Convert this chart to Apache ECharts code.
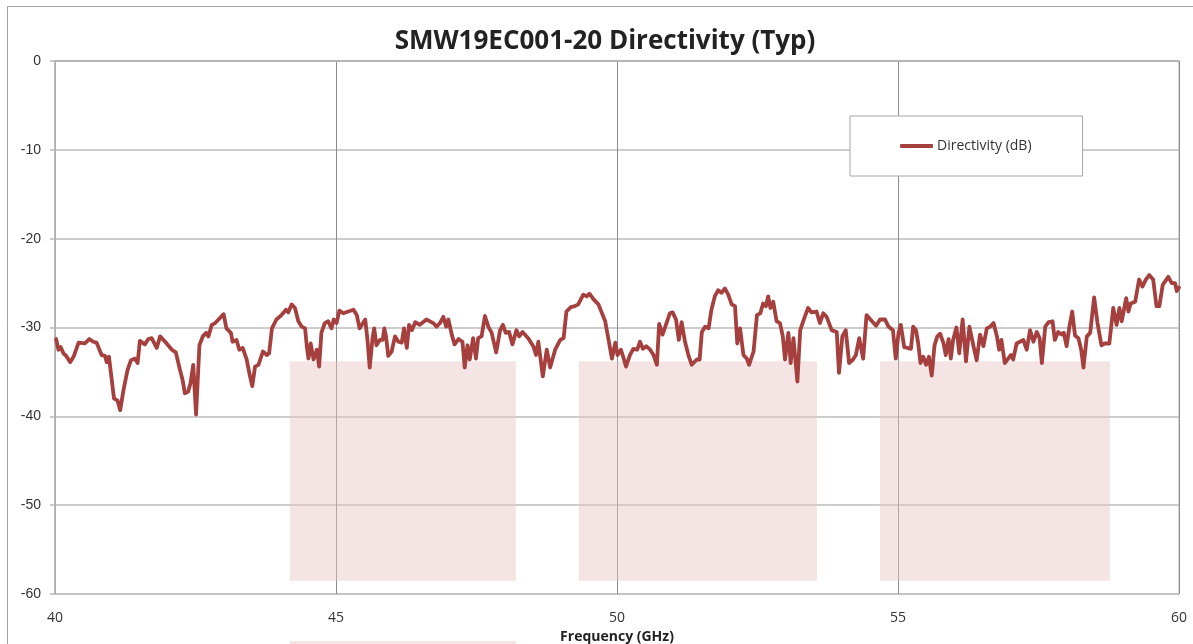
<!DOCTYPE html>
<html>
<head>
<meta charset="utf-8">
<script src="https://cdn.jsdelivr.net/npm/echarts@6/dist/echarts.min.js"></script>
<style>html,body{margin:0;padding:0;background:#fff;overflow:hidden;}#c{width:1193px;height:644px;}</style>
</head>
<body>
<div id="c"></div>
<script>
const titleText = 'SMW19EC001-20 Directivity (Typ)';
const seriesName = 'Directivity (dB)';
const xAxisName = 'Frequency (GHz)';
const freq = [
40.02,40.06,40.10,40.15,40.20,40.27,40.33,40.42,40.53,40.61,40.68,40.74,40.83,40.89,40.92,40.96,41.01,41.05,41.11,41.16,
41.22,41.29,41.35,41.42,41.47,41.51,41.60,41.66,41.72,41.81,41.87,41.96,42.08,42.15,42.21,42.27,42.31,42.37,42.41,42.46,
42.51,42.57,42.63,42.69,42.73,42.79,42.85,42.91,43.00,43.05,43.13,43.16,43.23,43.28,43.34,43.41,43.47,43.51,43.56,43.62,
43.70,43.77,43.81,43.86,43.94,44.03,44.11,44.15,44.21,44.27,44.33,44.39,44.45,44.48,44.51,44.55,44.60,44.66,44.70,
44.74,44.80,44.86,44.92,44.96,45.01,45.06,45.13,45.22,45.31,45.37,45.42,45.46,45.52,45.56,45.60,45.65,45.68,45.72,45.78,
45.83,45.86,45.89,45.93,45.99,46.05,46.11,46.17,46.21,46.26,46.30,46.35,46.41,46.49,46.61,46.73,46.79,46.85,46.91,46.96,
47.00,47.06,47.11,47.18,47.25,47.29,47.34,47.38,47.44,47.49,47.53,47.59,47.65,47.71,47.77,47.85,47.92,47.97,48.02,48.08,
48.14,48.21,48.26,48.32,48.42,48.51,48.56,48.60,48.68,48.75,48.81,48.90,48.99,49.05,49.10,49.18,49.25,49.31,49.40,49.46,
49.51,49.58,49.67,
49.79,49.85,49.91,49.97,50.01,50.07,50.11,50.16,50.23,50.29,50.36,50.41,50.46,50.52,50.59,50.65,50.71,50.75,50.81,50.87,
50.94,50.99,51.05,51.10,51.15,51.21,51.27,51.33,51.42,51.47,51.51,51.57,51.63,51.68,51.74,51.80,51.86,51.92,51.98,52.04,
52.10,52.14,52.19,52.25,52.31,52.35,52.43,52.49,52.55,52.60,52.65,52.69,52.73,52.78,52.84,52.90,52.95,52.99,53.05,53.09,
53.14,53.21,53.26,53.33,53.40,53.46,53.55,53.61,53.67,53.73,53.82,53.91,53.95,54.01,54.07,54.13,54.20,54.25,54.31,54.38,
54.44,54.51,54.61,
54.68,54.77,54.83,54.91,54.96,55.01,55.05,55.11,55.17,55.23,55.27,55.32,55.36,55.40,55.45,55.50,55.55,55.60,55.65,55.70,
55.75,55.81,55.85,55.90,55.94,55.98,56.04,56.09,56.15,56.21,56.27,56.34,56.40,56.46,56.52,56.58,56.64,56.70,56.76,56.80,
56.84,56.90,56.96,57.01,57.05,57.11,57.17,57.23,57.29,57.35,57.41,57.47,57.52,57.56,57.62,57.68,57.75,57.79,57.85,57.91,
57.95,58.00,58.05,58.10,58.15,58.21,58.26,58.30,58.36,58.42,58.49,58.55,58.62,58.68,58.76,58.83,58.89,58.94,58.98,59.06,
59.10,59.14,59.22,59.29,59.35,59.41,59.47,59.54,59.60,59.65,59.71,59.81,59.87,59.93,59.96,60.00
];
const directivity = [
-31.3,-32.5,-32.2,-32.9,-33.2,-33.9,-33.3,-31.7,-31.8,-31.3,-31.6,-31.7,-33.1,-33.2,-33.9,-33.3,-35.9,-38.0,-38.2,-39.3,
-37.0,-34.8,-33.7,-33.5,-34.0,-31.5,-31.9,-31.3,-31.2,-32.3,-31.0,-31.6,-32.5,-32.8,-34.4,-35.9,-37.4,-37.2,-36.3,-34.2,
-39.8,-32.0,-31.0,-30.6,-31.0,-29.7,-29.5,-29.1,-28.5,-30.1,-30.6,-31.6,-31.4,-32.5,-32.3,-33.6,-35.5,-36.6,-34.4,-34.2,
-32.7,-33.1,-32.9,-30.1,-29.1,-28.6,-28.0,-28.3,-27.4,-27.8,-29.3,-29.9,-30.1,-32.1,-33.5,-31.8,-33.6,-32.5,-34.4,
-30.6,-29.5,-29.3,-30.1,-29.1,-29.5,-28.1,-28.4,-28.2,-28.0,-28.6,-30.1,-29.7,-29.1,-31.4,-34.5,-31.2,-30.1,-32.0,-31.4,
-31.4,-30.1,-31.0,-33.2,-32.7,-31.0,-31.6,-31.7,-30.1,-32.3,-29.7,-30.3,-29.4,-29.7,-29.1,-29.5,-29.9,-29.5,-28.8,-29.9,
-29.1,-30.8,-31.9,-31.3,-31.6,-34.5,-32.0,-33.6,-31.2,-33.5,-31.2,-31.0,-28.7,-29.9,-30.6,-32.8,-30.3,-29.7,-30.6,-30.5,
-31.9,-30.3,-31.0,-30.5,-31.2,-32.1,-33.1,-31.6,-35.5,-32.5,-34.5,-32.5,-31.4,-31.2,-28.2,-27.7,-27.6,-27.4,-26.3,-26.5,
-26.2,-26.8,-27.4,
-29.3,-31.4,-33.5,-31.7,-33.1,-32.5,-33.3,-34.4,-33.1,-32.4,-32.5,-31.6,-32.4,-32.1,-32.5,-33.1,-34.2,-29.6,-30.8,-29.7,
-28.4,-28.3,-29.1,-31.4,-29.4,-31.6,-33.1,-34.2,-33.6,-33.6,-30.5,-29.9,-30.1,-28.0,-26.5,-25.8,-26.1,-25.6,-26.3,-27.4,
-27.6,-31.8,-30.1,-33.1,-33.5,-34.2,-32.7,-28.6,-28.4,-27.3,-27.6,-26.5,-27.8,-27.1,-29.3,-29.5,-31.0,-33.6,-30.6,-34.0,
-31.2,-36.1,-30.3,-29.0,-27.8,-28.3,-28.2,-29.5,-28.4,-28.8,-30.3,-30.5,-35.1,-31.0,-30.3,-34.0,-33.6,-33.1,-31.2,-33.5,
-28.6,-29.1,-29.8,
-29.1,-29.1,-29.9,-30.3,-33.5,-30.6,-29.7,-32.2,-32.3,-32.4,-29.9,-30.3,-31.8,-34.0,-33.3,-34.2,-33.3,-35.4,-32.0,-31.0,
-30.7,-31.8,-33.1,-31.3,-33.5,-31.4,-30.0,-32.9,-29.1,-33.8,-29.9,-32.0,-33.7,-30.8,-32.1,-30.1,-29.9,-29.5,-31.0,-32.5,
-31.4,-34.0,-33.5,-33.1,-33.6,-31.8,-31.6,-31.4,-32.5,-30.3,-31.6,-30.5,-31.2,-34.0,-29.9,-29.4,-29.3,-31.4,-30.5,-30.8,
-30.6,-32.1,-29.9,-28.2,-30.9,-31.2,-32.5,-34.5,-31.0,-30.6,-26.6,-29.5,-32.0,-31.8,-31.8,-27.8,-29.7,-27.8,-29.3,-26.7,
-28.2,-27.3,-27.1,-24.6,-25.4,-24.6,-24.1,-24.6,-27.6,-27.6,-25.2,-24.3,-25.0,-25.0,-25.9,-25.5
];
// shaded bands [xStart, xEnd, yTop, yBottom]
const bands = [
  [44.18, 48.2, -33.8, -58.5],
  [49.32, 53.56, -33.8, -58.5],
  [54.68, 58.77, -33.8, -58.5]
];
const xMin = 40, xMax = 60, xStep = 5;
const yMin = -60, yMax = 0, yStep = 10;

const bandColor = 'rgba(230,196,196,0.45)';
const data = freq.map((f, i) => [f, directivity[i]]);
const chart = echarts.init(document.getElementById('c'), null, {renderer: 'canvas'});
const border = {type: 'rect', left: 5, top: 4, z: -10, silent: true,
  shape: {width: 1300, height: 700},
  style: {fill: 'none', stroke: '#a0a0a0', lineWidth: 1}};
chart.setOption({
  animation: false,
  backgroundColor: '#fff',
  title: {
    text: titleText,
    left: 600, top: 24, textAlign: 'center',
    textStyle: {fontFamily: 'Open Sans', fontWeight: 'bold', fontSize: 26, color: '#222'}
  },
  legend: {
    data: [{name: seriesName, icon: 'roundRect'}],
    left: 850, top: 116,
    padding: [23, 51, 23, 50],
    itemWidth: 33, itemHeight: 4,
    backgroundColor: '#fff',
    borderColor: '#a6a6a6', borderWidth: 1,
    textStyle: {fontFamily: 'Open Sans', fontSize: 14, color: '#333', padding: [0, 0, 0, -1]}
  },
  grid: {left: 55, top: 61, right: 14, bottom: 50, containLabel: false, outerBoundsMode: 'none',
    show: true, borderColor: '#b0b0b0', borderWidth: 1},
  xAxis: {
    type: 'value', min: xMin, max: xMax, interval: xStep,
    name: xAxisName, nameLocation: 'middle', nameGap: 35,
    nameTextStyle: {fontFamily: 'Open Sans', fontWeight: 'bold', fontSize: 14, color: '#222'},
    axisLine: {show: true, lineStyle: {color: '#b0b0b0', width: 1.5}},
    axisTick: {show: false},
    axisLabel: {fontFamily: 'Open Sans', fontSize: 14, color: '#333', margin: 17},
    splitLine: {show: true, lineStyle: {color: '#8c8c8c', width: 1}}
  },
  yAxis: {
    type: 'value', min: yMin, max: yMax, interval: yStep,
    axisLine: {show: true, onZero: false, lineStyle: {color: '#b8b8b8', width: 1.5}},
    axisTick: {show: true, length: 5, lineStyle: {color: '#b8b8b8', width: 1.5}},
    axisLabel: {fontFamily: 'Liberation Sans', fontSize: 14, color: '#333', margin: 14},
    splitLine: {show: true, lineStyle: {color: '#bdbdbd', width: 1.5}}
  },
  series: [{
    name: seriesName,
    type: 'line',
    data: data,
    symbol: 'none',
    smooth: false,
    z: 5,
    lineStyle: {color: '#a5403e', width: 3.8, cap: 'round', join: 'round'},
    itemStyle: {color: '#a5403e'},
    markArea: {
      silent: true,
      itemStyle: {color: bandColor},
      data: bands.map(b => [{coord: [b[0], b[2]]}, {coord: [b[1], b[3]]}])
    }
  }],
  graphic: [border]
});
// strip of the lower band peeking below the axis (same x range as first band)
const p0 = chart.convertToPixel({gridIndex: 0}, [bands[0][0], yMin]);
const p1 = chart.convertToPixel({gridIndex: 0}, [bands[0][1], yMin]);
chart.setOption({graphic: [
  border,
  {type: 'rect', silent: true, z: -5,
    shape: {x: p0[0], y: 641, width: p1[0] - p0[0], height: 10},
    style: {fill: bandColor}}
]});
</script>
</body>
</html>
